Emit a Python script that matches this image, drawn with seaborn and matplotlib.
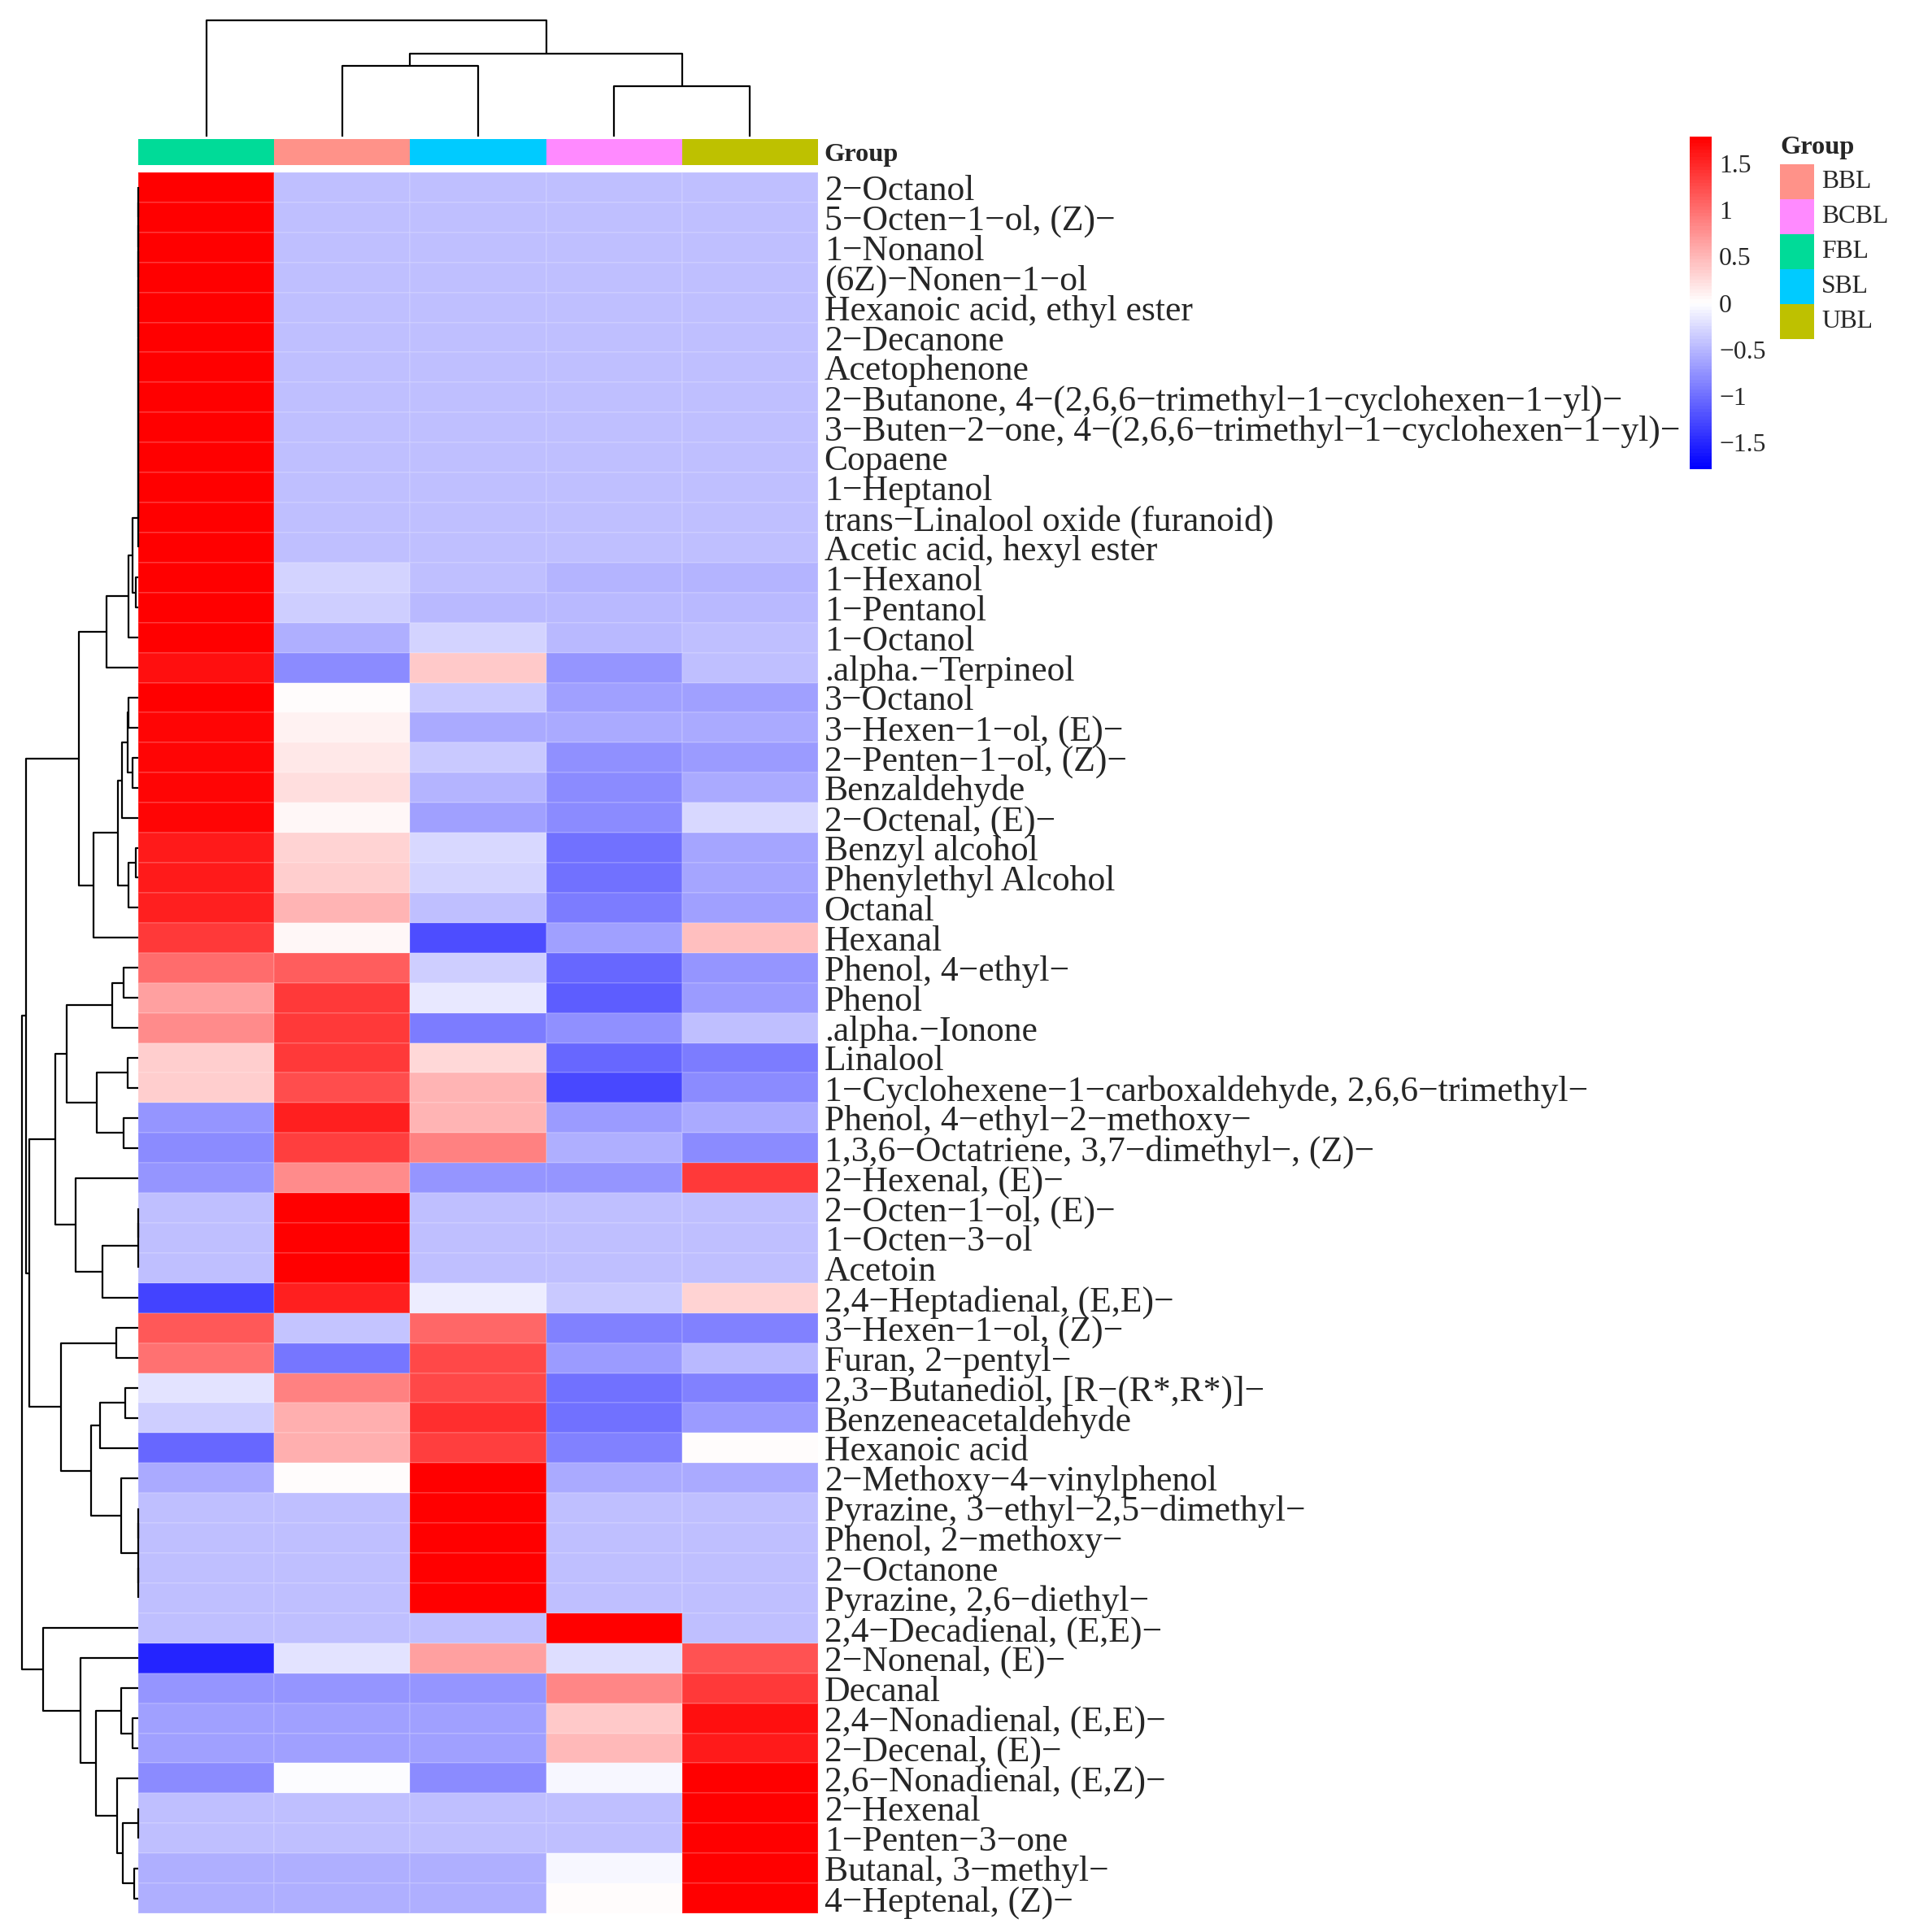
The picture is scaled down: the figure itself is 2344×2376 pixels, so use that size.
import numpy as np
import pandas as pd
import seaborn as sns
import matplotlib.pyplot as plt
from matplotlib.colors import LinearSegmentedColormap, ListedColormap
from matplotlib.patches import Rectangle

# ---- dados (z-score por linha) ----
groups = ['FBL', 'BBL', 'SBL', 'BCBL', 'UBL']
legend_groups = ['BBL', 'BCBL', 'FBL', 'SBL', 'UBL']
group_colors = {'BBL': '#FF9289', 'BCBL': '#FF8AFF', 'FBL': '#00DB98',
                'SBL': '#00CBFF', 'UBL': '#BEC100'}

compounds = [
    '2−Octanol', '5−Octen−1−ol, (Z)−', '1−Nonanol', '(6Z)−Nonen−1−ol',
    'Hexanoic acid, ethyl ester', '2−Decanone', 'Acetophenone',
    '2−Butanone, 4−(2,6,6−trimethyl−1−cyclohexen−1−yl)−',
    '3−Buten−2−one, 4−(2,6,6−trimethyl−1−cyclohexen−1−yl)−',
    'Copaene', '1−Heptanol', 'trans−Linalool oxide (furanoid)',
    'Acetic acid, hexyl ester', '1−Hexanol', '1−Pentanol', '1−Octanol',
    '.alpha.−Terpineol', '3−Octanol', '3−Hexen−1−ol, (E)−',
    '2−Penten−1−ol, (Z)−', 'Benzaldehyde', '2−Octenal, (E)−',
    'Benzyl alcohol', 'Phenylethyl Alcohol', 'Octanal', 'Hexanal',
    'Phenol, 4−ethyl−', 'Phenol', '.alpha.−Ionone', 'Linalool',
    '1−Cyclohexene−1−carboxaldehyde, 2,6,6−trimethyl−',
    'Phenol, 4−ethyl−2−methoxy−', '1,3,6−Octatriene, 3,7−dimethyl−, (Z)−',
    '2−Hexenal, (E)−', '2−Octen−1−ol, (E)−', '1−Octen−3−ol', 'Acetoin',
    '2,4−Heptadienal, (E,E)−', '3−Hexen−1−ol, (Z)−', 'Furan, 2−pentyl−',
    '2,3−Butanediol, [R−(R*,R*)]−', 'Benzeneacetaldehyde', 'Hexanoic acid',
    '2−Methoxy−4−vinylphenol', 'Pyrazine, 3−ethyl−2,5−dimethyl−',
    'Phenol, 2−methoxy−', '2−Octanone', 'Pyrazine, 2,6−diethyl−',
    '2,4−Decadienal, (E,E)−', '2−Nonenal, (E)−', 'Decanal',
    '2,4−Nonadienal, (E,E)−', '2−Decenal, (E)−', '2,6−Nonadienal, (E,Z)−',
    '2−Hexenal', '1−Penten−3−one', 'Butanal, 3−methyl−', '4−Heptenal, (Z)−',
]

fbl = [1.79, 1.79, 1.79, 1.79, 1.79, 1.79, 1.79, 1.79, 1.79, 1.79, 1.79, 1.79, 1.79,
       1.78, 1.78, 1.78, 1.65, 1.78, 1.75, 1.72, 1.72, 1.72, 1.61, 1.61, 1.54, 1.38,
       1.02, 0.67, 0.79, 0.33, 0.33, -0.75, -0.79, -0.75, -0.447, -0.447, -0.447,
       -1.31, 1.17, 0.98, -0.19, -0.33, -1.06, -0.60, -0.447, -0.447, -0.447, -0.447,
       -0.447, -1.51, -0.75, -0.67, -0.67, -0.80, -0.447, -0.447, -0.54, -0.57]
bbl = [-0.447, -0.447, -0.447, -0.447, -0.447, -0.447, -0.447, -0.447, -0.447, -0.447,
       -0.447, -0.447, -0.447, -0.30, -0.33, -0.54, -0.79, 0.00, 0.10, 0.15, 0.23, 0.07,
       0.30, 0.33, 0.53, 0.04, 1.12, 1.37, 1.37, 1.37, 1.23, 1.57, 1.34, 0.79, 1.79,
       1.79, 1.79, 1.54, -0.41, -0.96, 0.86, 0.55, 0.55, 0.00, -0.447, -0.447, -0.447,
       -0.447, -0.447, -0.18, -0.75, -0.67, -0.67, -0.03, -0.447, -0.447, -0.54, -0.57]
sbl = [-0.447, -0.447, -0.447, -0.447, -0.447, -0.447, -0.447, -0.447, -0.447, -0.447,
       -0.447, -0.447, -0.447, -0.44, -0.50, -0.30, 0.39, -0.36, -0.60, -0.37, -0.51,
       -0.65, -0.26, -0.30, -0.44, -1.23, -0.34, -0.16, -0.91, 0.27, 0.53, 0.53, 0.86,
       -0.74, -0.447, -0.447, -0.447, -0.12, 1.05, 1.26, 1.26, 1.45, 1.34, 1.79, 1.79,
       1.79, 1.79, 1.79, -0.447, 0.67, -0.75, -0.67, -0.67, -0.80, -0.447, -0.447,
       -0.54, -0.57]
bcbl = [-0.447, -0.447, -0.447, -0.447, -0.447, -0.447, -0.447, -0.447, -0.447, -0.447,
        -0.447, -0.447, -0.447, -0.51, -0.49, -0.49, -0.74, -0.65, -0.59, -0.77, -0.79,
        -0.79, -1.00, -1.00, -0.92, -0.67, -1.05, -1.13, -0.77, -1.05, -1.27, -0.70,
        -0.55, -0.74, -0.447, -0.447, -0.447, -0.39, -0.89, -0.70, -1.00, -1.00, -0.86,
        -0.60, -0.447, -0.447, -0.447, -0.447, 1.79, -0.22, 0.84, 0.36, 0.50, -0.06,
        -0.447, -0.447, -0.07, 0.00]
ubl = [-0.447, -0.447, -0.447, -0.447, -0.447, -0.447, -0.447, -0.447, -0.447, -0.447,
       -0.447, -0.447, -0.447, -0.51, -0.49, -0.44, -0.43, -0.65, -0.60, -0.70, -0.59,
       -0.26, -0.62, -0.62, -0.67, 0.44, -0.75, -0.71, -0.44, -0.91, -0.81, -0.60,
       -0.79, 1.37, -0.447, -0.447, -0.447, 0.30, -0.86, -0.50, -0.86, -0.70, 0.00,
       -0.60, -0.447, -0.447, -0.447, -0.447, -0.447, 1.20, 1.37, 1.68, 1.59, 1.79,
       1.79, 1.79, 1.79, 1.79]

cbar_ticks = [-1.5, -1, -0.5, 0, 0.5, 1, 1.5]
cbar_labels = ['−1.5', '−1', '−0.5', '0', '0.5', '1', '1.5']


# arvores: (esquerda, direita, altura); folha = indice da linha/coluna
def tie(*folhas):
    no = folhas[0]
    for f in folhas[1:]:
        no = (no, f, 0.0)
    return no


top_a = (tie(0, 1, 2, 3, 4, 5, 6, 7, 8, 9, 10, 11), 12, 0.3)
top_c = ((top_a, (13, 14, 3), 7), 15, 12)
top_e = (top_c, 16, 39)
mid_f = ((((17, 18, 12), (19, 20, 7), 13), 21, 20), (((22, 23, 3), 24, 12)), 25)
mid_j = (top_e, (mid_f, 25, 55), 73)
phen = ((((26, 27, 18), 28, 32), ((29, 30, 13), (31, 32, 18), 51), 88))
hex_l = (33, (tie(34, 35, 36), 37, 44), 77)
mid_m = (phen, hex_l, 102)
pyr = ((38, 39, 27), (((40, 41, 16), 42, 47), (43, ((44, 45, 0.0), (46, 47, 0.0), 0.0), 21), 58), 95)
upper = (mid_j, (mid_m, pyr, 134), 138)
ald = (48, (49, ((50, (51, 52, 7), 21), (53, ((54, 55, 0.0), (56, 57, 5), 19), 26), 52), 71), 117)
row_tree = (upper, ald, 143)
col_tree = (0, ((1, 2, 87), (3, 4, 62), 102), 143)


def draw_tree(ax, no, rotate=False):
    if isinstance(no, int):
        return no + 0.5, 0.0
    esq, dir_, h = no
    p1, h1 = draw_tree(ax, esq, rotate)
    p2, h2 = draw_tree(ax, dir_, rotate)
    xs = [p1, p1, p2, p2]
    ys = [h1, h, h, h2]
    if rotate:
        xs, ys = ys, xs
    ax.plot(xs, ys, color='black', lw=1.6, solid_capstyle='butt', clip_on=False)
    return (p1 + p2) / 2, h


sns.set_theme(style='white')
plt.rcParams['font.family'] = ['Liberation Serif', 'DejaVu Serif']

W, H = 2344, 2376
fig = plt.figure(figsize=(W / 100, H / 100), dpi=100)


def caixa(x0, y0, x1, y1):
    return fig.add_axes([x0 / W, 1 - y1 / H, (x1 - x0) / W, (y1 - y0) / H])


df = pd.DataFrame({'FBL': fbl, 'BBL': bbl, 'SBL': sbl, 'BCBL': bcbl, 'UBL': ubl},
                  index=compounds)
cmap = LinearSegmentedColormap.from_list('bwr_ph', ['blue', 'white', 'red'], N=100)

ax = caixa(170, 212, 1006, 2353)
cax = caixa(2078, 168, 2105, 577)
sns.heatmap(df, ax=ax, cmap=cmap, vmin=-1.79, vmax=1.79, cbar_ax=cax,
            xticklabels=False, yticklabels=compounds,
            linewidths=0.3, linecolor=(1, 1, 1, 0.12))
ax.yaxis.tick_right()
ax.set_yticklabels(compounds, rotation=0, fontsize=31.4)
ax.tick_params(axis='y', length=0, pad=5.5)
ax.set_xlabel('')
ax.set_ylabel('')

# barra de cores
cbar = ax.collections[0].colorbar
cbar.outline.set_visible(False)
cbar.set_ticks(cbar_ticks, labels=cbar_labels)
cax.tick_params(length=0, labelsize=22.8, pad=6.5)

# anotacao de grupo
ax_ann = caixa(170, 171, 1006, 203)
ann_cmap = ListedColormap([group_colors[g] for g in groups])
sns.heatmap(np.arange(len(groups)).reshape(1, -1), ax=ax_ann, cmap=ann_cmap,
            cbar=False, xticklabels=False, yticklabels=['Group'])
ax_ann.yaxis.tick_right()
ax_ann.set_yticklabels(['Group'], rotation=0, fontsize=23.3, fontweight='bold')
ax_ann.tick_params(axis='y', length=0, pad=5.5)

# dendrogramas
ax_col = caixa(170, 25, 1006, 168)
draw_tree(ax_col, col_tree)
ax_col.set_xlim(0, len(groups))
ax_col.set_ylim(0, col_tree[2])
ax_col.axis('off')

ax_row = caixa(27, 212, 170, 2353)
draw_tree(ax_row, row_tree, rotate=True)
ax_row.set_xlim(row_tree[2], 0)
ax_row.set_ylim(len(compounds), 0)
ax_row.axis('off')

# legenda (coordenadas em pixels da figura)
ax_leg = caixa(2180, 150, 2344, 440)
ax_leg.set_xlim(2180, 2344)
ax_leg.set_ylim(440, 150)
ax_leg.axis('off')
box_h = 43
ax_leg.text(2189, 182, 'Group', fontsize=23.3, fontweight='bold', va='center', ha='left')
for k, g in enumerate(legend_groups):
    y0 = 202 + k * box_h
    ax_leg.add_patch(Rectangle((2189, y0), 42, box_h, facecolor=group_colors[g], edgecolor='none'))
    ax_leg.text(2240, y0 + box_h / 2, g, fontsize=22.8, va='center', ha='left')

fig.savefig('out.png', dpi=100)
